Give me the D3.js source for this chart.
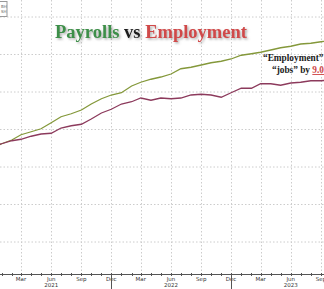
<!DOCTYPE html>
<html>
<head>
<meta charset="utf-8">
<script src="https://cdn.jsdelivr.net/npm/d3@7"></script>
<style>
  body { margin: 0; background: #fff; }
  svg { display: block; }
</style>
</head>
<body>
<div id="chart"></div>
<script>
// monthly points, Dec 2020 .. Oct 2023 (millions)
var months = d3.timeMonths(new Date(2020, 11, 1), new Date(2023, 10, 1));
var payrolls = [142.5, 143.1, 143.6, 144.3, 144.7, 145.1, 145.9, 146.7, 147.1, 147.6, 148.4, 149.1,
  149.6, 149.9, 150.8, 151.3, 151.7, 152.0, 152.4, 153.1, 153.3, 153.6, 153.9, 154.1,
  154.4, 154.9, 155.1, 155.3, 155.6, 155.9, 156.1, 156.4, 156.5, 156.7, 156.9];
var employment = [142.7, 143.1, 143.5, 143.7, 144.1, 144.4, 144.5, 145.2, 145.5, 145.7, 146.4, 147.2,
  147.7, 148.4, 148.7, 149.2, 148.9, 149.2, 149.1, 149.2, 149.6, 149.7, 149.6, 149.3,
  149.9, 150.5, 150.5, 151.1, 151.1, 150.9, 151.2, 151.3, 151.5, 151.5, 151.6];
var gridValues = [130, 135, 140, 145, 150, 155, 160];
var tickLabels = ["Mar", "Jun", "Sep", "Dec"];
var yearLabels = ["2021", "2022", "2023"];

var svgWidth = 324;
var svgHeight = 289;
var axisY = 274;

var svg = d3.select("#chart")
  .append("svg")
  .attr("width", svgWidth)
  .attr("height", svgHeight);

var defs = svg.append("defs");
var f = defs.append("filter").attr("id", "shadow")
  .attr("x", "-10%").attr("y", "-30%").attr("width", "120%").attr("height", "160%");
f.append("feDropShadow")
  .attr("dx", 1.5).attr("dy", 1.5).attr("stdDeviation", 1.2)
  .attr("flood-color", "#777").attr("flood-opacity", 0.6);

var x = d3.scaleTime()
  .domain([new Date(2021, 2, 1), new Date(2023, 8, 1)])
  .range([21, 321]);

var y = d3.scaleLinear()
  .domain([160, 130])
  .range([17, 242]);

// grid
var quarters = d3.timeMonths(new Date(2021, 2, 1), new Date(2023, 9, 1), 3);

svg.append("g").selectAll("line")
  .data(gridValues)
  .enter().append("line")
  .attr("x1", 0).attr("x2", svgWidth)
  .attr("y1", d => y(d)).attr("y2", d => y(d))
  .attr("stroke", "#cccccc")
  .attr("stroke-width", 1)
  .attr("stroke-dasharray", "1.5,2");

svg.append("g").selectAll("line")
  .data(quarters)
  .enter().append("line")
  .attr("x1", d => Math.round(x(d)) + 0.5).attr("x2", d => Math.round(x(d)) + 0.5)
  .attr("y1", 0).attr("y2", axisY)
  .attr("stroke", "#cccccc")
  .attr("stroke-width", 1)
  .attr("stroke-dasharray", "1.5,2");

// x axis
var xAxis = svg.append("g")
  .attr("transform", `translate(0, ${axisY})`);

xAxis.append("line")
  .attr("x1", 0).attr("x2", svgWidth)
  .attr("y1", 0.5).attr("y2", 0.5)
  .attr("stroke", "#555");

xAxis.selectAll("line.minor")
  .data(d3.timeMonths(new Date(2020, 11, 1), new Date(2023, 10, 1)))
  .enter().append("line")
  .attr("class", "minor")
  .attr("x1", d => Math.round(x(d)) + 0.5).attr("x2", d => Math.round(x(d)) + 0.5)
  .attr("y1", -1).attr("y2", 2)
  .attr("stroke", "#555");

xAxis.selectAll("text.q")
  .data(quarters)
  .enter().append("text")
  .attr("class", "q")
  .attr("x", d => x(d))
  .attr("y", 7)
  .attr("text-anchor", "middle")
  .style("font-family", "'DejaVu Sans', sans-serif")
  .style("font-size", "5.5px")
  .attr("fill", "#333")
  .text(d => tickLabels[Math.floor(d.getMonth() / 3)]);

// year separators at Dec
xAxis.selectAll("line.year")
  .data([new Date(2021, 11, 1), new Date(2022, 11, 1)])
  .enter().append("line")
  .attr("class", "year")
  .attr("x1", d => Math.round(x(d)) + 0.5).attr("x2", d => Math.round(x(d)) + 0.5)
  .attr("y1", 0).attr("y2", 16)
  .attr("stroke", "#555");

xAxis.selectAll("text.yr")
  .data(yearLabels)
  .enter().append("text")
  .attr("class", "yr")
  .attr("x", d => x(new Date(+d, 5, 1)))
  .attr("y", 13)
  .attr("text-anchor", "middle")
  .style("font-family", "'DejaVu Sans', sans-serif")
  .style("font-size", "5.5px")
  .attr("fill", "#333")
  .text(d => d);

// lines
var line = d3.line()
  .x((d, i) => x(months[i]))
  .y(d => y(d));

svg.append("path")
  .datum(payrolls)
  .attr("d", line)
  .attr("fill", "none")
  .attr("stroke", "#84983a")
  .attr("stroke-width", 1.3);

svg.append("path")
  .datum(employment)
  .attr("d", line)
  .attr("fill", "none")
  .attr("stroke", "#8c3a5c")
  .attr("stroke-width", 1.3);

// little legend box top-left (cut off)
svg.append("rect")
  .attr("x", -20).attr("y", 1.5)
  .attr("width", 27).attr("height", 15)
  .attr("fill", "#fff")
  .attr("stroke", "#999");
svg.append("text").attr("x", 1).attr("y", 7.5)
  .style("font-family", "'DejaVu Sans', sans-serif")
  .style("font-size", "4px").attr("fill", "#666").text("BH");
svg.append("text").attr("x", 1).attr("y", 13)
  .style("font-family", "'DejaVu Sans', sans-serif")
  .style("font-size", "4px").attr("fill", "#666").text("SH");

// title
var title = svg.append("text")
  .attr("x", 151)
  .attr("y", 38)
  .attr("text-anchor", "middle")
  .attr("filter", "url(#shadow)")
  .style("font-family", "'Liberation Serif', serif")
  .style("font-weight", "bold")
  .style("font-size", "18.5px");
title.append("tspan").attr("fill", "#3d8f48").text("Payrolls");
title.append("tspan").attr("fill", "#1a1a1a").text(" vs ");
title.append("tspan").attr("fill", "#d04848").text("Employment");

// annotation
var note = svg.append("g")
  .style("font-family", "'Liberation Serif', serif")
  .style("font-weight", "bold")
  .style("font-size", "9.3px")
  .attr("fill", "#1a1a1a");
note.append("text").attr("x", 263).attr("y", 61).text("\u201CEmployment\u201D lags");
var l2 = note.append("text").attr("x", 272).attr("y", 73);
l2.append("tspan").text("\u201Cjobs\u201D by ");
l2.append("tspan").attr("fill", "#d04848").style("text-decoration", "underline").text("9.0 million");
</script>
</body>
</html>
